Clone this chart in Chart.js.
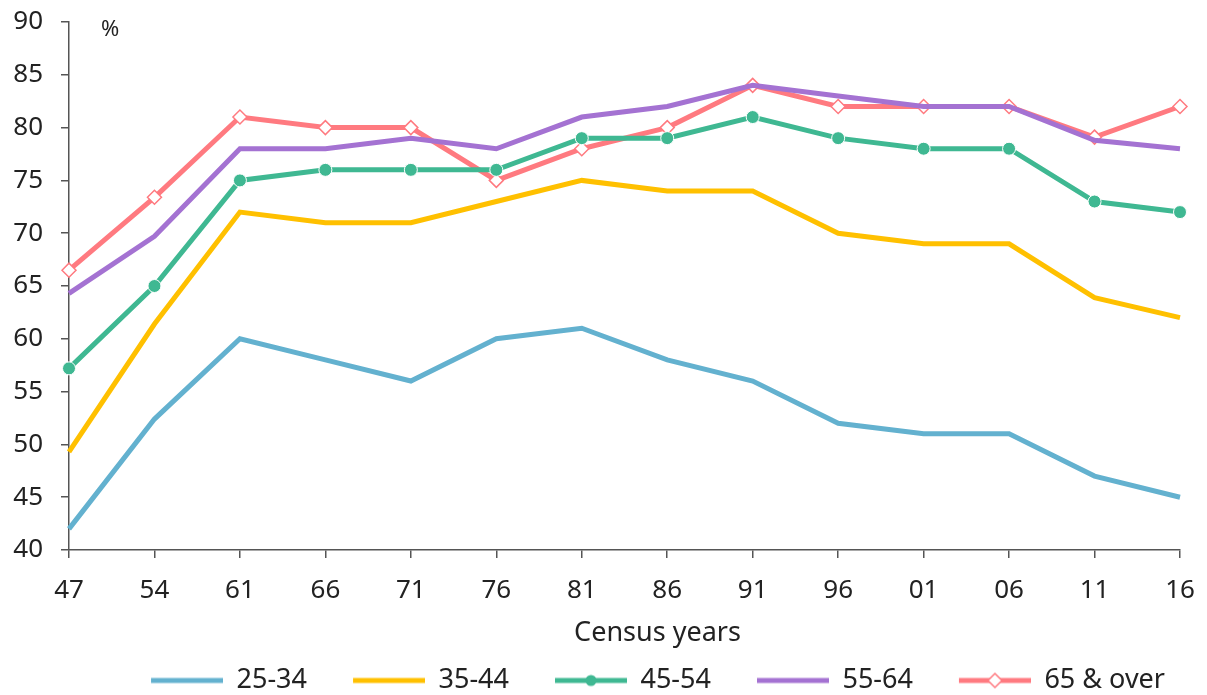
<!DOCTYPE html>
<html>
<head>
<meta charset="utf-8">
<script src="https://cdn.jsdelivr.net/npm/chart.js@4/dist/chart.umd.min.js"></script>
<style>
  html, body { margin: 0; padding: 0; background: #fff; }
  #wrap { width: 1207px; height: 695px; position: relative; }
</style>
</head>
<body>
<div id="wrap"><canvas id="censusChart"></canvas></div>
<script>
// ─── DATA ───
const censusYears = ['47', '54', '61', '66', '71', '76', '81', '86', '91', '96', '01', '06', '11', '16'];
const age25to34 = [42, 52.4, 60, 58, 56, 60, 61, 58, 56, 52, 51, 51, 47, 45];
const age35to44 = [49.3, 61.4, 72, 71, 71, 73, 75, 74, 74, 70, 69, 69, 63.9, 62];
const age45to54 = [57.2, 65, 75, 76, 76, 76, 79, 79, 81, 79, 78, 78, 73, 72];
const age55to64 = [64.3, 69.7, 78, 78, 79, 78, 81, 82, 84, 83, 82, 82, 78.8, 78];
const age65over = [66.5, 73.4, 81, 80, 80, 75, 78, 80, 84, 82, 82, 82, 79.1, 82];

const FONT = '"Noto Sans", sans-serif';
const TEXT = '#222';
const AXIS = '#555';

// ─── LEGEND SWATCHES (blank lead-in + line + optional marker) ───
function makeSwatch(color, marker) {
    const c = document.createElement('canvas');
    c.width = 103; c.height = 22;
    const g = c.getContext('2d');
    g.strokeStyle = color;
    g.lineWidth = 5;
    g.lineCap = 'butt';
    g.beginPath(); g.moveTo(31, 11); g.lineTo(103, 11); g.stroke();
    if (marker === 'circle') {
        g.fillStyle = color;
        g.beginPath(); g.arc(67, 11, 5.5, 0, Math.PI * 2); g.fill();
    } else if (marker === 'diamond') {
        g.fillStyle = '#fff';
        g.lineWidth = 1.5;
        g.beginPath();
        g.moveTo(67, 4); g.lineTo(74, 11); g.lineTo(67, 18); g.lineTo(60, 11); g.closePath();
        g.fill(); g.stroke();
    }
    return c;
}

const series = [
    { label: '25-34', data: age25to34, color: '#63b1cf', marker: null },
    { label: '35-44', data: age35to44, color: '#ffc000', marker: null },
    { label: '45-54', data: age45to54, color: '#3fb892', marker: 'circle' },
    { label: '55-64', data: age55to64, color: '#a472d2', marker: null },
    { label: '65 & over', data: age65over, color: '#ff7a80', marker: 'diamond' }
];

const datasets = series.map(s => ({
    label: s.label,
    data: s.data,
    borderColor: s.color,
    backgroundColor: s.marker === 'diamond' ? '#fff' : s.color,
    borderWidth: 5,
    tension: 0,
    fill: false,
    pointStyle: s.marker === 'diamond' ? 'rectRot' : 'circle',
    pointRadius: s.marker === 'diamond' ? 7 : (s.marker ? 6.5 : 0),
    pointBorderColor: s.marker === 'diamond' ? s.color : '#fff',
    pointBorderWidth: s.marker === 'diamond' ? 1.5 : 1,
    pointHoverRadius: s.marker ? 6 : 0,
    swatch: makeSwatch(s.color, s.marker)
}));

// ─── "%" AND AXIS TITLE ───
const extraText = {
    id: 'extraText',
    afterDraw(chart) {
        const g = chart.ctx;
        const a = chart.chartArea;
        g.save();
        g.fillStyle = TEXT;
        g.textBaseline = 'middle';
        g.textAlign = 'left';
        g.font = '22px ' + FONT;
        g.fillText('%', a.left + 32, a.top + 8);
        g.textAlign = 'center';
        g.font = '27px ' + FONT;
        g.fillText('Census years', (a.left + a.right) / 2 + 33, a.bottom + 83);
        g.restore();
    }
};

// ─── CHART ───
const ctx = document.getElementById('censusChart').getContext('2d');
new Chart(ctx, {
    type: 'line',
    data: { labels: censusYears, datasets: datasets },
    plugins: [extraText],
    options: {
        responsive: true,
        maintainAspectRatio: false,
        animation: false,
        layout: { padding: { top: 22, right: 27, left: 0, bottom: -9 } },
        scales: {
            x: {
                offset: false,
                grid: { display: true, drawOnChartArea: false, drawTicks: true, tickLength: 8, color: AXIS, lineWidth: 1.5 },
                border: { display: true, color: AXIS, width: 1.5 },
                ticks: { color: TEXT, font: { family: FONT, size: 26 }, padding: 17, maxRotation: 0, autoSkip: false },
                afterFit(scale) {
                    scale.height = 102;
                    scale.paddingLeft = 0;
                    scale.paddingRight = 0;
                }
            },
            y: {
                min: 40,
                max: 90,
                ticks: { stepSize: 5, color: TEXT, font: { family: FONT, size: 26 }, padding: 18 },
                grid: { display: true, drawOnChartArea: false, drawTicks: true, tickLength: 8, color: AXIS, lineWidth: 1.5 },
                border: { display: true, color: AXIS, width: 1.5 },
                afterFit(scale) {
                    scale.width = 69;
                    scale.paddingTop = 0;
                    scale.paddingBottom = 0;
                }
            }
        },
        plugins: {
            tooltip: { enabled: false },
            legend: {
                position: 'bottom',
                align: 'end',
                labels: {
                    usePointStyle: true,
                    pointStyleWidth: 103,
                    color: TEXT,
                    font: { family: FONT, size: 27 },
                    padding: 15,
                    generateLabels(chart) {
                        return chart.data.datasets.map((ds, i) => ({
                            text: ds.label,
                            pointStyle: ds.swatch,
                            fontColor: TEXT,
                            strokeStyle: ds.borderColor,
                            fillStyle: ds.borderColor,
                            lineWidth: 0,
                            hidden: false,
                            datasetIndex: i
                        }));
                    }
                }
            }
        }
    }
});
</script>
</body>
</html>
